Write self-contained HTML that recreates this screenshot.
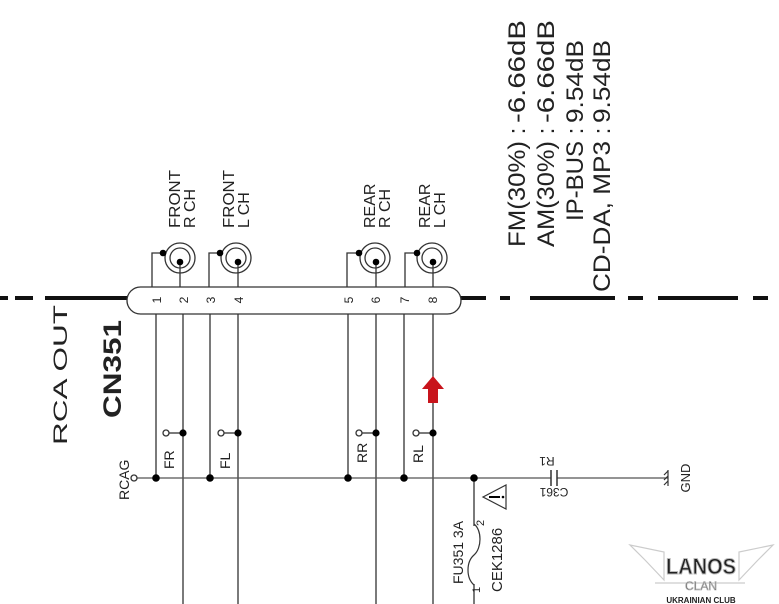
<!DOCTYPE html>
<html><head><meta charset="utf-8"><style>
html,body{margin:0;padding:0;background:#fff;}
svg{display:block;}
text{font-family:"Liberation Sans",sans-serif;fill:#222;}
</style></head><body>
<svg width="779" height="604" viewBox="0 0 779 604" xmlns="http://www.w3.org/2000/svg">
<!-- top right text -->
<g font-size="24" fill="#111">
<text transform="translate(525,247) rotate(-90)" textLength="106" lengthAdjust="spacingAndGlyphs">FM(30%)</text>
<text transform="translate(525,131) rotate(-90)" text-anchor="middle">:</text>
<text transform="translate(525,123) rotate(-90)" textLength="103" lengthAdjust="spacingAndGlyphs">-6.66dB</text>
<text transform="translate(554,247) rotate(-90)" textLength="106" lengthAdjust="spacingAndGlyphs">AM(30%)</text>
<text transform="translate(554,131) rotate(-90)" text-anchor="middle">:</text>
<text transform="translate(554,123) rotate(-90)" textLength="103" lengthAdjust="spacingAndGlyphs">-6.66dB</text>
<text transform="translate(583,141) rotate(-90)" text-anchor="end">IP-BUS</text>
<text transform="translate(583,131) rotate(-90)" text-anchor="middle">:</text>
<text transform="translate(583,123) rotate(-90)" textLength="83" lengthAdjust="spacingAndGlyphs">9.54dB</text>
<text transform="translate(610,292) rotate(-90)" textLength="151" lengthAdjust="spacingAndGlyphs">CD-DA, MP3</text>
<text transform="translate(610,131) rotate(-90)" text-anchor="middle">:</text>
<text transform="translate(610,123) rotate(-90)" textLength="83" lengthAdjust="spacingAndGlyphs">9.54dB</text>
</g>
<!-- bus dashes -->
<g stroke="#111" stroke-width="4">
<line x1="0" y1="298" x2="8" y2="298"/>
<line x1="15" y1="298" x2="33" y2="298"/>
<line x1="45" y1="298" x2="128" y2="298"/>
<line x1="460" y1="298" x2="486" y2="298"/>
<line x1="500" y1="298" x2="510" y2="298"/>
<line x1="530" y1="298" x2="615" y2="298"/>
<line x1="628" y1="298" x2="643" y2="298"/>
<line x1="658" y1="298" x2="738" y2="298"/>
<line x1="753" y1="298" x2="768" y2="298"/>
</g>
<!-- connector body -->
<rect x="127" y="287" width="334" height="27" rx="13.5" fill="#fff" stroke="#333" stroke-width="1.3"/>
<g font-size="12" fill="#333">
<text transform="translate(161,300) rotate(-90)" text-anchor="middle">1</text>
<text transform="translate(188,300) rotate(-90)" text-anchor="middle">2</text>
<text transform="translate(215,300) rotate(-90)" text-anchor="middle">3</text>
<text transform="translate(243,300) rotate(-90)" text-anchor="middle">4</text>
<text transform="translate(353,300) rotate(-90)" text-anchor="middle">5</text>
<text transform="translate(380,300) rotate(-90)" text-anchor="middle">6</text>
<text transform="translate(409,300) rotate(-90)" text-anchor="middle">7</text>
<text transform="translate(437,300) rotate(-90)" text-anchor="middle">8</text>
</g>
<!-- jacks -->
<g stroke="#333" stroke-width="1.3" fill="none">
<circle cx="180" cy="258" r="15"/><circle cx="180" cy="258" r="10"/>
<circle cx="236" cy="258" r="15"/><circle cx="236" cy="258" r="10"/>
<circle cx="375" cy="258" r="15"/><circle cx="375" cy="258" r="10"/>
<circle cx="432" cy="258" r="15"/><circle cx="432" cy="258" r="10"/>
<polyline points="152,287 152,253 164,253"/>
<polyline points="209,287 209,253 221,253"/>
<polyline points="347,287 347,253 359,253"/>
<polyline points="405,287 405,253 417,253"/>
<line x1="180" y1="262" x2="180" y2="287"/>
<line x1="238" y1="262" x2="238" y2="287"/>
<line x1="376" y1="262" x2="376" y2="287"/>
<line x1="433" y1="262" x2="433" y2="287"/>
<line x1="156" y1="314" x2="156" y2="478"/>
<line x1="210" y1="314" x2="210" y2="478"/>
<line x1="348" y1="314" x2="348" y2="478"/>
<line x1="404" y1="314" x2="404" y2="478"/>
<line x1="183" y1="314" x2="183" y2="604"/>
<line x1="238" y1="314" x2="238" y2="604"/>
<line x1="376" y1="314" x2="376" y2="604"/>
<line x1="433" y1="314" x2="433" y2="604"/>
<line x1="137" y1="478" x2="668" y2="478" stroke="#555"/>
<line x1="474" y1="478" x2="474" y2="604"/>
<line x1="169" y1="433" x2="183" y2="433"/>
<line x1="224" y1="433" x2="238" y2="433"/>
<line x1="362" y1="433" x2="376" y2="433"/>
<line x1="419" y1="433" x2="433" y2="433"/>
<circle cx="166" cy="433" r="3" fill="#fff"/>
<circle cx="221" cy="433" r="3" fill="#fff"/>
<circle cx="359" cy="433" r="3" fill="#fff"/>
<circle cx="416" cy="433" r="3" fill="#fff"/>
<circle cx="134" cy="478" r="3" fill="#fff"/>
</g>
<g fill="#000">
<circle cx="163" cy="253" r="3.3"/><circle cx="180" cy="262" r="3.3"/>
<circle cx="220" cy="253" r="3.3"/><circle cx="238" cy="262" r="3.3"/>
<circle cx="359" cy="253" r="3.3"/><circle cx="376" cy="262" r="3.3"/>
<circle cx="417" cy="253" r="3.3"/><circle cx="433" cy="262" r="3.3"/>
<circle cx="183" cy="433" r="3.6"/><circle cx="238" cy="433" r="3.6"/>
<circle cx="376" cy="433" r="3.6"/><circle cx="433" cy="433" r="3.6"/>
<circle cx="156" cy="478" r="3.8"/><circle cx="210" cy="478" r="3.8"/>
<circle cx="348" cy="478" r="3.8"/><circle cx="404" cy="478" r="3.8"/>
<circle cx="474" cy="478" r="3.8"/>
</g>
<!-- jack labels -->
<g font-size="16" fill="#222">
<text transform="translate(180,228) rotate(-90)" textLength="58" lengthAdjust="spacingAndGlyphs">FRONT</text>
<text transform="translate(195,228) rotate(-90)">R CH</text>
<text transform="translate(234,228) rotate(-90)" textLength="58" lengthAdjust="spacingAndGlyphs">FRONT</text>
<text transform="translate(249,228) rotate(-90)">L CH</text>
<text transform="translate(375,228) rotate(-90)">REAR</text>
<text transform="translate(390,228) rotate(-90)">R CH</text>
<text transform="translate(430,228) rotate(-90)">REAR</text>
<text transform="translate(445,228) rotate(-90)">L CH</text>
</g>
<!-- small labels -->
<g font-size="14" fill="#333">
<text transform="translate(174,469) rotate(-90)">FR</text>
<text transform="translate(230,469) rotate(-90)">FL</text>
<text transform="translate(367,463) rotate(-90)">RR</text>
<text transform="translate(423,463) rotate(-90)">RL</text>
<text transform="translate(129,500) rotate(-90)">RCAG</text>
<text transform="translate(463,584) rotate(-90)">FU351  3A</text>
<text transform="translate(484,526) rotate(-90)" font-size="11">2</text>
<text transform="translate(480,593) rotate(-90)" font-size="11">1</text>
<text transform="translate(502,592) rotate(-90)" font-size="15">CEK1286</text>
<text transform="translate(547,457) rotate(180)" text-anchor="middle" font-size="12">R1</text>
<text transform="translate(554,488) rotate(180)" text-anchor="middle" font-size="12">C361</text>
<text transform="translate(690,478) rotate(-90)" text-anchor="middle" font-size="13">GND</text>
</g>
<!-- fuse -->
<rect x="472" y="526" width="4" height="58" fill="#fff"/>
<path d="M474,524 C482,530 482,548 474,555 C466,562 466,578 474,585" fill="none" stroke="#333" stroke-width="1.2"/>
<!-- warning triangle -->
<path d="M483,497 L506,485 L506,509 Z" fill="#fff" stroke="#333" stroke-width="1.2"/>
<line x1="489" y1="497" x2="500" y2="497" stroke="#000" stroke-width="2"/>
<circle cx="503" cy="497" r="1.3" fill="#000"/>
<!-- capacitor -->
<rect x="551" y="476" width="6" height="4" fill="#fff"/>
<g stroke="#333" stroke-width="1.5">
<line x1="551" y1="470" x2="551" y2="486"/>
<line x1="557" y1="470" x2="557" y2="486"/>
</g>
<!-- GND symbol -->
<g stroke="#333" stroke-width="1.2">
<line x1="668" y1="470" x2="668" y2="486"/>
<line x1="668" y1="471" x2="664" y2="475"/>
<line x1="668" y1="476" x2="664" y2="480"/>
<line x1="668" y1="481" x2="664" y2="485"/>
</g>
<!-- red arrow -->
<path d="M433,376 L444,389 L438,389 L438,403 L428,403 L428,389 L422,389 Z" fill="#c8141c"/>
<!-- CN351 & RCA OUT -->
<text transform="translate(121,418) rotate(-90)" font-size="25" font-weight="bold" fill="#111" textLength="98" lengthAdjust="spacingAndGlyphs">CN351</text>
<text transform="translate(67,445) rotate(-90)" font-size="19" fill="#777" textLength="140" lengthAdjust="spacingAndGlyphs">RCA  OUT</text>
<!-- watermark -->
<g fill="none" stroke="#ccc" stroke-width="1.2">
<path d="M630,545 L664,552 L664,580 L645,560 Z"/>
<path d="M773,545 L739,552 L739,580 L758,560 Z"/>
<path d="M655,583 L745,583"/>
</g>
<text x="701" y="574" font-size="22" text-anchor="middle" fill="#fff" stroke="#bbb" stroke-width="1" font-weight="bold" textLength="70" lengthAdjust="spacingAndGlyphs">LANOS</text>
<text x="701" y="590" font-size="12" text-anchor="middle" fill="#fff" stroke="#bbb" stroke-width="0.8">CLAN</text>
<text x="701" y="603" font-size="8" text-anchor="middle" fill="#aaa" font-weight="bold">UKRAINIAN CLUB</text>
</svg>
</body></html>
